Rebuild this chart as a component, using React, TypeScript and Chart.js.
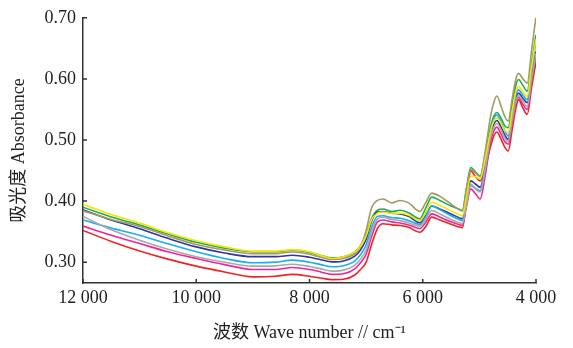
import React, { useEffect, useRef } from "react";
import { Chart, registerables } from "chart.js";

Chart.register(...registerables);

const wavenumbers = [12000, 11500, 11000, 10500, 10000, 9500, 9000, 8600, 8300, 8000, 7800, 7600, 7400, 7200, 7100, 7000, 6900, 6800, 6700, 6550, 6400, 6250, 6050, 5950, 5840, 5700, 5500, 5340, 5300, 5230, 5152, 5070, 4986, 4900, 4800, 4740, 4691, 4620, 4550, 4491, 4420, 4360, 4309, 4230, 4155, 4080, 4000];

const yellowSeries = [0.395, 0.378, 0.364, 0.348, 0.335, 0.325, 0.318, 0.318, 0.3206, 0.317, 0.311, 0.306, 0.309, 0.317, 0.326, 0.343, 0.370, 0.380, 0.382, 0.380, 0.380, 0.377, 0.368, 0.381, 0.398, 0.393, 0.384, 0.377, 0.376, 0.405, 0.441, 0.440, 0.436, 0.468, 0.515, 0.532, 0.536, 0.528, 0.515, 0.512, 0.548, 0.578, 0.588, 0.578, 0.571, 0.620, 0.665];
const greenSeries = [0.390, 0.374, 0.361, 0.346, 0.3325, 0.323, 0.317, 0.317, 0.3195, 0.316, 0.311, 0.307, 0.309, 0.317, 0.327, 0.345, 0.372, 0.385, 0.387, 0.383, 0.385, 0.381, 0.371, 0.388, 0.4065, 0.401, 0.392, 0.386, 0.3846, 0.420, 0.455, 0.448, 0.441, 0.475, 0.522, 0.540, 0.545, 0.536, 0.523, 0.520, 0.558, 0.588, 0.599, 0.589, 0.580, 0.625, 0.672];
const oliveSeries = [0.384, 0.370, 0.3585, 0.343, 0.329, 0.320, 0.314, 0.314, 0.3167, 0.313, 0.308, 0.3044, 0.306, 0.314, 0.325, 0.352, 0.390, 0.401, 0.4035, 0.397, 0.401, 0.397, 0.383, 0.397, 0.413, 0.408, 0.395, 0.385, 0.384, 0.418, 0.452, 0.446, 0.440, 0.480, 0.540, 0.563, 0.572, 0.556, 0.538, 0.531, 0.568, 0.598, 0.609, 0.600, 0.593, 0.645, 0.702];
const navySeries = [0.386, 0.369, 0.3548, 0.339, 0.325, 0.315, 0.309, 0.309, 0.3114, 0.308, 0.304, 0.3005, 0.302, 0.310, 0.320, 0.337, 0.368, 0.382, 0.383, 0.380, 0.379, 0.375, 0.3645, 0.376, 0.392, 0.387, 0.379, 0.372, 0.371, 0.400, 0.433, 0.428, 0.4225, 0.455, 0.508, 0.527, 0.532, 0.522, 0.508, 0.501, 0.537, 0.566, 0.577, 0.568, 0.561, 0.600, 0.645];
const cyanSeries = [0.369, 0.356, 0.344, 0.330, 0.317, 0.306, 0.299, 0.300, 0.3033, 0.300, 0.296, 0.2924, 0.294, 0.302, 0.312, 0.328, 0.358, 0.375, 0.376, 0.373, 0.372, 0.368, 0.362, 0.374, 0.392, 0.386, 0.376, 0.369, 0.368, 0.395, 0.425, 0.421, 0.417, 0.455, 0.515, 0.536, 0.541, 0.530, 0.515, 0.5065, 0.543, 0.573, 0.582, 0.573, 0.566, 0.615, 0.661];
const greySeries = [0.375, 0.353, 0.3358, 0.321, 0.309, 0.300, 0.2935, 0.294, 0.2967, 0.293, 0.289, 0.2854, 0.287, 0.295, 0.305, 0.320, 0.350, 0.371, 0.3735, 0.370, 0.368, 0.364, 0.359, 0.370, 0.3846, 0.379, 0.370, 0.364, 0.363, 0.393, 0.428, 0.420, 0.415, 0.450, 0.505, 0.522, 0.527, 0.517, 0.503, 0.497, 0.533, 0.562, 0.573, 0.563, 0.555, 0.598, 0.642];
const magentaSeries = [0.359, 0.344, 0.3304, 0.317, 0.306, 0.296, 0.288, 0.288, 0.2913, 0.288, 0.284, 0.280, 0.281, 0.289, 0.299, 0.313, 0.343, 0.366, 0.369, 0.366, 0.364, 0.361, 0.355, 0.365, 0.379, 0.374, 0.366, 0.361, 0.360, 0.390, 0.420, 0.412, 0.4036, 0.440, 0.498, 0.516, 0.521, 0.510, 0.497, 0.493, 0.528, 0.558, 0.570, 0.558, 0.550, 0.595, 0.638];
const redSeries = [0.352, 0.334, 0.3184, 0.305, 0.2935, 0.284, 0.276, 0.277, 0.280, 0.277, 0.274, 0.2715, 0.272, 0.279, 0.288, 0.300, 0.330, 0.355, 0.363, 0.361, 0.360, 0.357, 0.349, 0.358, 0.3737, 0.369, 0.362, 0.357, 0.3565, 0.400, 0.4496, 0.440, 0.433, 0.455, 0.490, 0.508, 0.513, 0.502, 0.488, 0.482, 0.518, 0.550, 0.566, 0.552, 0.542, 0.585, 0.628];

const seriesList = [
  { name: "yellow", values: yellowSeries, color: "#f5e400" },
  { name: "olive", values: oliveSeries, color: "#a39a62" },
  { name: "grey", values: greySeries, color: "#a8a8a8" },
  { name: "cyan", values: cyanSeries, color: "#19aef0" },
  { name: "navy", values: navySeries, color: "#34359a" },
  { name: "green", values: greenSeries, color: "#1fae4e" },
  { name: "magenta", values: magentaSeries, color: "#f0259a" },
  { name: "red", values: redSeries, color: "#f02222" },
];

const xTickValues = [12000, 10000, 8000, 6000, 4000];
const yTickValues = [0.3, 0.4, 0.5, 0.6, 0.7];
const yTitle = "吸光度 Absorbance";
const xTitle = "波数 Wave number // cm⁻¹";

const FONT = "'Liberation Serif', 'Noto Sans CJK SC', serif";

function fmtWave(n: number): string {
  const s = String(Math.round(n));
  return s.length > 3 ? s.slice(0, -3) + " " + s.slice(-3) : s;
}

const innerTicks = {
  id: "innerTicks",
  afterDraw(chart: any) {
    const { ctx, chartArea, scales } = chart;
    ctx.save();
    ctx.strokeStyle = "#333";
    ctx.lineWidth = 1.5;
    ctx.beginPath();
    scales.x.ticks.forEach((t: any) => {
      const px = scales.x.getPixelForValue(t.value);
      ctx.moveTo(px, chartArea.bottom);
      ctx.lineTo(px, chartArea.bottom - 4);
    });
    scales.y.ticks.forEach((t: any) => {
      const py = scales.y.getPixelForValue(t.value);
      ctx.moveTo(chartArea.left, py);
      ctx.lineTo(chartArea.left + 4, py);
    });
    ctx.stroke();
    ctx.restore();
  },
};

export default function App() {
  const ref = useRef<HTMLCanvasElement | null>(null);
  useEffect(() => {
    if (!ref.current) return;
    const chart = new Chart(ref.current, {
      type: "line",
      data: {
        datasets: seriesList.map((s) => ({
          label: s.name,
          data: wavenumbers.map((w, i) => ({ x: w, y: s.values[i] })),
          borderColor: s.color,
          backgroundColor: s.color,
          borderWidth: 1.6,
          pointRadius: 0,
          fill: false,
          cubicInterpolationMode: "monotone" as const,
        })),
      },
      options: {
        animation: false,
        responsive: false,
        devicePixelRatio: 1,
        layout: { padding: { top: 16, right: 37, left: 0, bottom: 0 } },
        plugins: { legend: { display: false }, tooltip: { enabled: false } },
        scales: {
          x: {
            type: "linear",
            reverse: true,
            min: 4000,
            max: 12000,
            afterBuildTicks: (scale: any) => {
              scale.ticks = xTickValues.map((v) => ({ value: v }));
            },
            afterFit: (scale: any) => {
              scale.height = 65;
            },
            ticks: {
              callback: (v: any) => fmtWave(Number(v)),
              font: { family: FONT, size: 18 },
              color: "#222",
              padding: 4,
              maxRotation: 0,
            },
            grid: { display: true, drawOnChartArea: false, drawTicks: false },
            border: { display: true, color: "#333", width: 1.5 },
            title: {
              display: true,
              text: xTitle,
              font: { family: FONT, size: 18 },
              color: "#222",
              padding: { top: 0, bottom: 4 },
            },
          },
          y: {
            type: "linear",
            min: 0.2659,
            max: 0.7,
            afterBuildTicks: (scale: any) => {
              scale.ticks = yTickValues.map((v) => ({ value: v }));
            },
            afterFit: (scale: any) => {
              scale.width = 83;
            },
            ticks: {
              callback: (v: any) => Number(v).toFixed(2),
              font: { family: FONT, size: 18 },
              color: "#222",
              padding: 7,
            },
            grid: { display: true, drawOnChartArea: false, drawTicks: false },
            border: { display: true, color: "#333", width: 1.5 },
            title: {
              display: true,
              text: yTitle,
              font: { family: FONT, size: 18 },
              color: "#222",
              padding: { top: 8, bottom: 0 },
            },
          },
        },
      },
      plugins: [innerTicks],
    });
    return () => chart.destroy();
  }, []);
  return (
    <div style={{ position: "absolute", left: 0, top: 0, width: 573, height: 348, background: "#fff" }}>
      <canvas ref={ref} width={573} height={348} style={{ width: 573, height: 348, display: "block" }} />
    </div>
  );
}
